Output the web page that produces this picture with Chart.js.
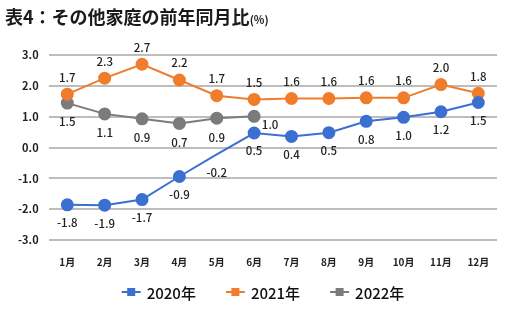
<!DOCTYPE html>
<html lang="ja">
<head>
<meta charset="UTF-8">
<title>その他家庭の前年同月比</title>
<script src="https://cdn.jsdelivr.net/npm/chart.js"></script>
<style>
    html, body { margin: 0; padding: 0; background: #fff; }
    #wrap { position: relative; width: 512px; height: 322px; }
    #title {
        position: absolute; left: 5px; top: 3px;
        font-family: "Noto Sans CJK JP", sans-serif; font-weight: 700;
        font-size: 18px; color: #1a1a1a;
    }
    #title small { font-size: 11px; font-weight: 700; }
</style>
</head>
<body>
<div id="wrap">
    <div id="title">表4：その他家庭の前年同月比<small>(%)</small></div>
    <canvas id="lineChart" width="512" height="322"></canvas>
</div>
<script>
var months = ['1月', '2月', '3月', '4月', '5月', '6月', '7月', '8月', '9月', '10月', '11月', '12月'];
var yTicks = [-3, -2, -1, 0, 1, 2, 3];

var values2020 = [-1.86, -1.87, -1.69, -0.94, -0.22, 0.47, 0.36, 0.48, 0.85, 0.98, 1.16, 1.46];
var values2021 = [1.73, 2.25, 2.7, 2.19, 1.68, 1.56, 1.59, 1.59, 1.61, 1.61, 2.04, 1.76];
var values2022 = [1.44, 1.09, 0.93, 0.78, 0.95, 1.01, null, null, null, null, null, null];

var labels2020 = ['-1.8', '-1.9', '-1.7', '-0.9', '-0.2', '0.5', '0.4', '0.5', '0.8', '1.0', '1.2', '1.5'];
var labels2021 = ['1.7', '2.3', '2.7', '2.2', '1.7', '1.5', '1.6', '1.6', '1.6', '1.6', '2.0', '1.8'];
var labels2022 = ['1.5', '1.1', '0.9', '0.7', '0.9', '1.0'];

var BLUE = '#3b6fd1', ORANGE = '#ef7d2c', GRAY = '#7b7b7b';
var FONT = '"Noto Sans CJK JP", sans-serif';

// draws the value labels next to each point
var valueLabels = {
    id: 'valueLabels',
    afterDatasetsDraw: function (chart) {
        var ctx = chart.ctx;
        ctx.save();
        ctx.font = '500 11.5px ' + FONT;
        ctx.fillStyle = '#222';
        ctx.textAlign = 'center';
        ctx.textBaseline = 'middle';
        chart.data.datasets.forEach(function (ds, i) {
            var meta = chart.getDatasetMeta(i);
            meta.data.forEach(function (pt, j) {
                var txt = ds.valueLabels[j];
                if (txt === undefined || ds.data[j] === null) return;
                var shift = (ds.labelShift && ds.labelShift[j]) || [0, 0];
                ctx.fillText(txt, pt.x + shift[0], pt.y + ds.labelOffset + shift[1]);
            });
        });
        ctx.restore();
    }
};

// legend row under the axis: line-with-square marker + label, wider gaps than the built-in one
var bottomLegend = {
    id: 'bottomLegend',
    afterDraw: function (chart) {
        var ctx = chart.ctx;
        var y = 292, gap = 30;
        ctx.save();
        ctx.font = '500 15px ' + FONT;
        ctx.textBaseline = 'middle';
        var items = chart.data.datasets.map(function (ds) {
            return { text: ds.label, color: ds.borderColor, w: 19 + 6 + ctx.measureText(ds.label).width };
        });
        var total = items.reduce(function (s, it) { return s + it.w; }, 0) + gap * (items.length - 1);
        var x = 263 - total / 2;
        items.forEach(function (it) {
            ctx.fillStyle = it.color;
            ctx.fillRect(x, y - 1, 19, 2);
            ctx.fillRect(x + 5.5, y - 4, 8, 8);
            ctx.fillStyle = '#111';
            ctx.fillText(it.text, x + 25, y + 1);
            x += it.w + gap;
        });
        ctx.restore();
    }
};

var radius2020 = months.map(function (m, i) { return i === 4 ? 0 : 5.5; });

var ctx = document.getElementById('lineChart').getContext('2d');
window.myChart = new Chart(ctx, {
    type: 'line',
    data: {
        labels: months,
        datasets: [
            { label: '2020年', data: values2020, valueLabels: labels2020, labelOffset: 18,
              borderColor: BLUE, backgroundColor: BLUE, pointRadius: radius2020, borderWidth: 2 },
            { label: '2021年', data: values2021, valueLabels: labels2021, labelOffset: -17,
              borderColor: ORANGE, backgroundColor: ORANGE, pointRadius: 5.5, borderWidth: 2 },
            { label: '2022年', data: values2022, valueLabels: labels2022, labelOffset: 19,
              labelShift: { 5: [16, -11] },
              borderColor: GRAY, backgroundColor: GRAY, pointRadius: 5.5, borderWidth: 2 }
        ]
    },
    options: {
        responsive: false,
        animation: false,
        layout: { padding: { top: 55, left: 8, right: 15, bottom: 46 } },
        elements: { line: { tension: 0 }, point: { borderWidth: 1 } },
        scales: {
            x: {
                offset: true,
                grid: { display: false },
                border: { display: false },
                ticks: { color: '#222', font: { family: FONT, size: 10, weight: '700' }, padding: 8 }
            },
            y: {
                min: -3, max: 3,
                afterBuildTicks: function (axis) {
                    axis.ticks = yTicks.map(function (v) { return { value: v }; });
                },
                grid: { color: '#bdbdbd', lineWidth: 2, drawTicks: false },
                border: { display: false },
                ticks: {
                    color: '#222', padding: 10,
                    font: { family: FONT, size: 11, weight: '700' },
                    callback: function (v) { return Number(v).toFixed(1); }
                }
            }
        },
        plugins: {
            title: { display: false },
            tooltip: { enabled: false },
            legend: { display: false }
        }
    },
    plugins: [valueLabels, bottomLegend]
});
</script>
</body>
</html>
